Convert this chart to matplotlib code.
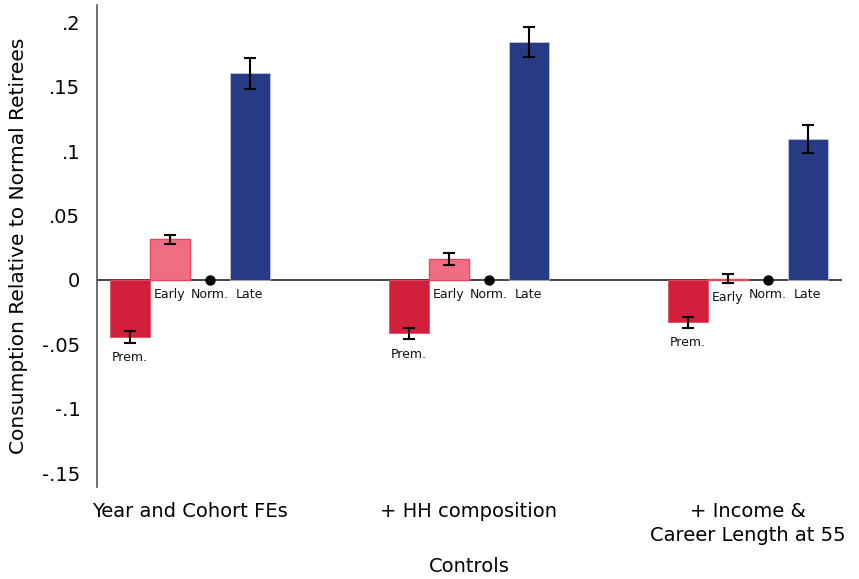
import matplotlib
matplotlib.use("Agg")
import matplotlib.pyplot as plt
import numpy as np

# Regression specifications (x groups)
controls = ["Year and Cohort FEs", "+ HH composition", "+ Income &\nCareer Length at 55"]
categories = ["Prem.", "Early", "Norm.", "Late"]

# Point estimates relative to normal retirees, per specification
prem = [-0.0445, -0.0415, -0.0330]
early = [0.0315, 0.0162, 0.0010]
norm = [0.0, 0.0, 0.0]
late = [0.1605, 0.1846, 0.1095]

# Half-widths of the confidence intervals
prem_err = [0.0045, 0.0045, 0.0042]
early_err = [0.0035, 0.0045, 0.0035]
late_err = [0.0120, 0.0115, 0.0110]

yticks = [-0.15, -0.1, -0.05, 0, 0.05, 0.1, 0.15, 0.2]
ytick_labels = ["-.15", "-.1", "-.05", "0", ".05", ".1", ".15", ".2"]

plt.rcParams["font.family"] = ["DejaVu Sans"]

fig = plt.figure(figsize=(8.59, 5.79), dpi=100)
ax = fig.add_axes([97 / 859, 1 - 487 / 579, (842 - 97) / 859, (487 - 5) / 579])

x = np.arange(len(controls))
w = 0.143
offs = [-1.5 * w, -0.5 * w, 0.5 * w, 1.5 * w]

c_prem = "#D21F3C"
c_early = "#F06E82"
c_early_edge = "#E8475F"
c_late = "#273A85"

ax.axhline(0, color="#222222", lw=1.2, zorder=1)

ax.bar(x + offs[0], prem, w, color=c_prem, edgecolor="#E05068", lw=0.6, zorder=2)
ax.bar(x + offs[1], early, w, color=c_early, edgecolor=c_early_edge, lw=1.0, zorder=2)
ax.bar(x + offs[3], late, w, color=c_late, edgecolor="#C8CCE0", lw=0.5, zorder=2)
ax.plot(x + offs[2], norm, "o", color="black", ms=6.5, zorder=4)

ek = dict(fmt="none", ecolor="black", elinewidth=1.5, capsize=4.5, capthick=1.5, zorder=5)
ax.errorbar(x + offs[0], prem, yerr=prem_err, **ek)
ax.errorbar(x + offs[1], early, yerr=early_err, **ek)
ax.errorbar(x + offs[3], late, yerr=late_err, **ek)

# Category labels just below the zero line or below the lower whisker
series = [(prem, prem_err), (early, early_err), (norm, [0, 0, 0]), (late, [0, 0, 0])]
for k, (vals, errs) in enumerate(series):
    for i in range(len(controls)):
        low = min(0.0, vals[i] - errs[i])
        ax.annotate(categories[k], (x[i] + offs[k], low), xytext=(0, -6),
                    textcoords="offset points", ha="center", va="top",
                    fontsize=9, color="#111111")

ax.set_xlim(-0.333, 2.337)
ax.set_ylim(-0.1608, 0.2135)
ax.set_yticks(yticks)
ax.set_yticklabels(ytick_labels)
ax.set_xticks(x)
ax.set_xticklabels(controls)

ax.tick_params(axis="y", length=0, pad=12, labelsize=14)
ax.tick_params(axis="x", length=0, pad=11, labelsize=14)
for lab in ax.get_xticklabels():
    lab.set_linespacing(1.3)

for s in ["top", "right", "bottom"]:
    ax.spines[s].set_visible(False)
ax.spines["left"].set_color("#555555")
ax.spines["left"].set_linewidth(1.2)

ax.set_ylabel("Consumption Relative to Normal Retirees", fontsize=14.5, labelpad=10)
ax.set_xlabel("Controls", fontsize=14, labelpad=9)

fig.savefig("out.png", dpi=100)
